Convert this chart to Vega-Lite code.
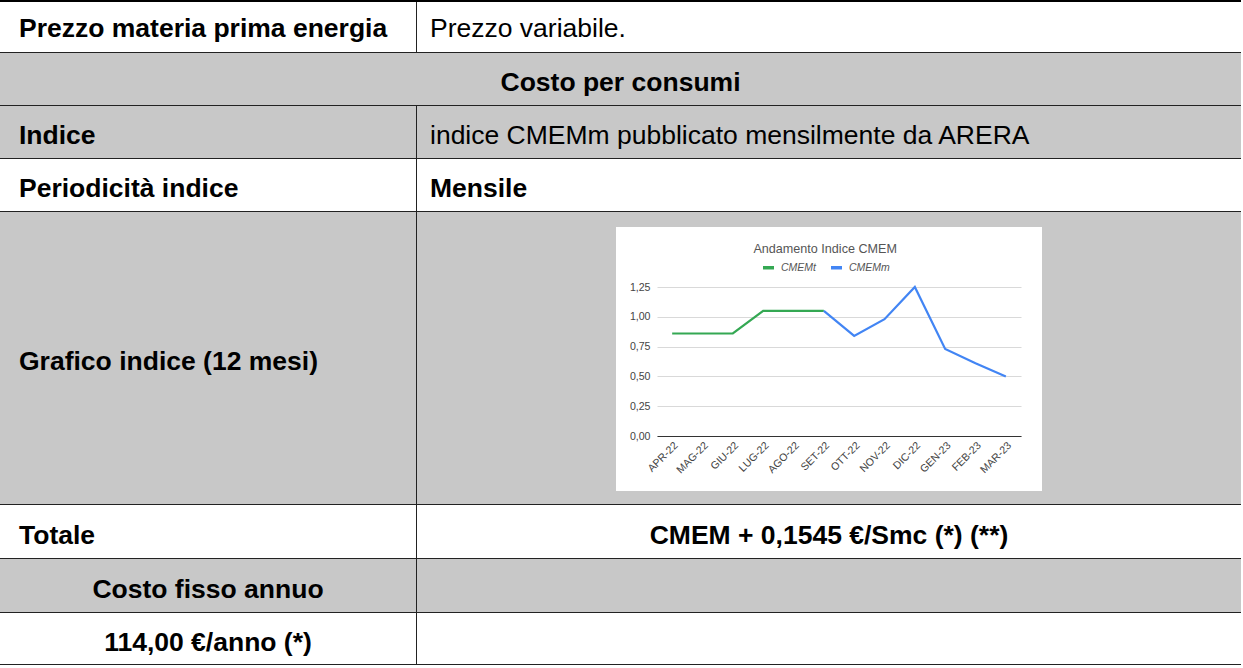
{
  "$schema": "https://vega.github.io/schema/vega-lite/v6.json",
  "padding": 0,
  "background": "#ffffff",
  "spacing": 0,
  "resolve": {"scale": {"color": "independent"}, "legend": {"color": "independent"}},
  "config": {
    "font": "Liberation Sans",
    "concat": {"spacing": 0},
    "view": {"stroke": null},
    "text": {"font": "Liberation Sans", "fontSize": 26.5, "color": "#000000", "dy": 4},
    "locale": {"number": {"decimal": ",", "thousands": ".", "grouping": [3], "currency": ["", " €"]}}
  },
  "vconcat": [
    {"width": 1241, "height": 2, "view": {"fill": "#000000"}, "data": {"values": []}, "mark": {"type": "text", "text": ""}},
    {"spacing": 0, "hconcat": [
      {"width": 416, "height": 50, "view": {"fill": "#ffffff"}, "data": {"values": [{"testo": "Prezzo materia prima energia"}]}, "mark": {"type": "text", "align": "left", "x": 19, "dy": 2, "fontWeight": "bold"}, "encoding": {"text": {"field": "testo"}}},
      {"width": 1, "height": 50, "view": {"fill": "#222222"}, "data": {"values": []}, "mark": {"type": "text", "text": ""}},
      {"width": 824, "height": 50, "view": {"fill": "#ffffff"}, "data": {"values": [{"testo": "Prezzo variabile."}]}, "mark": {"type": "text", "align": "left", "x": 13, "dy": 2}, "encoding": {"text": {"field": "testo"}}}
    ]},
    {"width": 1241, "height": 1, "view": {"fill": "#222222"}, "data": {"values": []}, "mark": {"type": "text", "text": ""}},
    {"width": 1241, "height": 52, "view": {"fill": "#c8c8c8"}, "data": {"values": [{"testo": "Costo per consumi"}]}, "mark": {"type": "text", "fontWeight": "bold"}, "encoding": {"text": {"field": "testo"}}},
    {"width": 1241, "height": 1, "view": {"fill": "#222222"}, "data": {"values": []}, "mark": {"type": "text", "text": ""}},
    {"spacing": 0, "hconcat": [
      {"width": 416, "height": 52, "view": {"fill": "#c8c8c8"}, "data": {"values": [{"testo": "Indice"}]}, "mark": {"type": "text", "align": "left", "x": 19, "fontWeight": "bold"}, "encoding": {"text": {"field": "testo"}}},
      {"width": 1, "height": 52, "view": {"fill": "#222222"}, "data": {"values": []}, "mark": {"type": "text", "text": ""}},
      {"width": 824, "height": 52, "view": {"fill": "#c8c8c8"}, "data": {"values": [{"testo": "indice CMEMm pubblicato mensilmente da ARERA"}]}, "mark": {"type": "text", "align": "left", "x": 13}, "encoding": {"text": {"field": "testo"}}}
    ]},
    {"width": 1241, "height": 1, "view": {"fill": "#222222"}, "data": {"values": []}, "mark": {"type": "text", "text": ""}},
    {"spacing": 0, "hconcat": [
      {"width": 416, "height": 52, "view": {"fill": "#ffffff"}, "data": {"values": [{"testo": "Periodicità indice"}]}, "mark": {"type": "text", "align": "left", "x": 19, "fontWeight": "bold"}, "encoding": {"text": {"field": "testo"}}},
      {"width": 1, "height": 52, "view": {"fill": "#222222"}, "data": {"values": []}, "mark": {"type": "text", "text": ""}},
      {"width": 824, "height": 52, "view": {"fill": "#ffffff"}, "data": {"values": [{"testo": "Mensile"}]}, "mark": {"type": "text", "align": "left", "x": 13, "fontWeight": "bold"}, "encoding": {"text": {"field": "testo"}}}
    ]},
    {"width": 1241, "height": 1, "view": {"fill": "#222222"}, "data": {"values": []}, "mark": {"type": "text", "text": ""}},
    {"spacing": 0, "resolve": {"scale": {"color": "independent"}, "legend": {"color": "independent"}}, "hconcat": [
      {"width": 416, "height": 292, "view": {"fill": "#c8c8c8"}, "data": {"values": [{"testo": "Grafico indice (12 mesi)"}]}, "mark": {"type": "text", "align": "left", "x": 19, "fontWeight": "bold"}, "encoding": {"text": {"field": "testo"}}},
      {"width": 1, "height": 292, "view": {"fill": "#222222"}, "data": {"values": []}, "mark": {"type": "text", "text": ""}},
      {"spacing": 0, "resolve": {"scale": {"color": "independent"}, "legend": {"color": "independent"}}, "vconcat": [
        {"width": 824, "height": 15, "view": {"fill": "#c8c8c8"}, "data": {"values": []}, "mark": {"type": "text", "text": ""}},
        {"spacing": 13, "resolve": {"scale": {"color": "independent"}, "legend": {"color": "independent"}}, "hconcat": [
          {"width": 199, "height": 264, "view": {"fill": "#c8c8c8"}, "data": {"values": []}, "mark": {"type": "text", "text": ""}},
          {"spacing": 0, "resolve": {"scale": {"color": "independent"}, "legend": {"color": "independent"}}, "vconcat": [
            {"width": 372, "height": 16, "data": {"values": []}, "mark": {"type": "text", "text": ""}},
            {
              "width": 364,
              "height": 149,
              "view": {"stroke": null},
              "title": {"text": "Andamento Indice CMEM", "frame": "bounds", "anchor": "middle", "fontSize": 12.6, "fontWeight": "normal", "color": "#555555", "offset": 4},
              "data": {"values": [
                {"serie": "CMEMt", "mese": "APR-22", "n": 1, "valore": 0.86},
                {"serie": "CMEMt", "mese": "MAG-22", "n": 2, "valore": 0.86},
                {"serie": "CMEMt", "mese": "GIU-22", "n": 3, "valore": 0.86},
                {"serie": "CMEMt", "mese": "LUG-22", "n": 4, "valore": 1.05},
                {"serie": "CMEMt", "mese": "AGO-22", "n": 5, "valore": 1.05},
                {"serie": "CMEMt", "mese": "SET-22", "n": 6, "valore": 1.05},
                {"serie": "CMEMm", "mese": "SET-22", "n": 6, "valore": 1.05},
                {"serie": "CMEMm", "mese": "OTT-22", "n": 7, "valore": 0.84},
                {"serie": "CMEMm", "mese": "NOV-22", "n": 8, "valore": 0.98},
                {"serie": "CMEMm", "mese": "DIC-22", "n": 9, "valore": 1.25},
                {"serie": "CMEMm", "mese": "GEN-23", "n": 10, "valore": 0.73},
                {"serie": "CMEMm", "mese": "FEB-23", "n": 11, "valore": 0.61},
                {"serie": "CMEMm", "mese": "MAR-23", "n": 12, "valore": 0.50}
              ]},
              "mark": {"type": "line", "strokeWidth": 2.2},
              "encoding": {
                "x": {"field": "mese", "type": "ordinal", "sort": ["APR-22", "MAG-22", "GIU-22", "LUG-22", "AGO-22", "SET-22", "OTT-22", "NOV-22", "DIC-22", "GEN-23", "FEB-23", "MAR-23"], "scale": {"type": "point", "padding": 0.5}, "axis": {"title": null, "labelAngle": -45, "ticks": false, "domainColor": "#333333", "labelColor": "#444444", "labelFontSize": 10.6, "labelPadding": 4, "grid": false}},
                "y": {"field": "valore", "type": "quantitative", "scale": {"domain": [0, 1.25]}, "axis": {"title": null, "values": [0, 0.25, 0.5, 0.75, 1, 1.25], "format": ".2f", "domain": false, "ticks": false, "gridColor": "#d9d9d9", "labelColor": "#444444", "labelFontSize": 10.6, "labelPadding": 7}},
                "color": {"field": "serie", "type": "nominal", "scale": {"domain": ["CMEMt", "CMEMm"], "range": ["#34a853", "#4285f4"]}, "legend": {"orient": "none", "legendX": 104, "legendY": -27, "direction": "horizontal", "title": null, "symbolType": "stroke", "symbolStrokeWidth": 3.5, "symbolSize": 120, "labelFontSize": 10.5, "labelFontStyle": "italic", "labelColor": "#555555", "columnPadding": 8, "labelOffset": 5}},
                "order": {"field": "n", "type": "quantitative"}
              }
            }
          ]},
          {"width": 199, "height": 264, "view": {"fill": "#c8c8c8"}, "data": {"values": []}, "mark": {"type": "text", "text": ""}}
        ]},
        {"width": 824, "height": 13, "view": {"fill": "#c8c8c8"}, "data": {"values": []}, "mark": {"type": "text", "text": ""}}
      ]}
    ]},
    {"width": 1241, "height": 1, "view": {"fill": "#222222"}, "data": {"values": []}, "mark": {"type": "text", "text": ""}},
    {"spacing": 0, "hconcat": [
      {"width": 416, "height": 53, "view": {"fill": "#ffffff"}, "data": {"values": [{"testo": "Totale"}]}, "mark": {"type": "text", "align": "left", "x": 19, "fontWeight": "bold"}, "encoding": {"text": {"field": "testo"}}},
      {"width": 1, "height": 53, "view": {"fill": "#222222"}, "data": {"values": []}, "mark": {"type": "text", "text": ""}},
      {"width": 824, "height": 53, "view": {"fill": "#ffffff"}, "data": {"values": [{"testo": "CMEM + 0,1545 €/Smc (*) (**)"}]}, "mark": {"type": "text", "fontWeight": "bold"}, "encoding": {"text": {"field": "testo"}}}
    ]},
    {"width": 1241, "height": 1, "view": {"fill": "#222222"}, "data": {"values": []}, "mark": {"type": "text", "text": ""}},
    {"spacing": 0, "hconcat": [
      {"width": 416, "height": 53, "view": {"fill": "#c8c8c8"}, "data": {"values": [{"testo": "Costo fisso annuo"}]}, "mark": {"type": "text", "fontWeight": "bold"}, "encoding": {"text": {"field": "testo"}}},
      {"width": 1, "height": 53, "view": {"fill": "#222222"}, "data": {"values": []}, "mark": {"type": "text", "text": ""}},
      {"width": 824, "height": 53, "view": {"fill": "#c8c8c8"}, "data": {"values": []}, "mark": {"type": "text", "text": ""}}
    ]},
    {"width": 1241, "height": 1, "view": {"fill": "#222222"}, "data": {"values": []}, "mark": {"type": "text", "text": ""}},
    {"spacing": 0, "hconcat": [
      {"width": 416, "height": 51, "view": {"fill": "#ffffff"}, "data": {"values": [{"testo": "114,00 €/anno (*)"}]}, "mark": {"type": "text", "fontWeight": "bold"}, "encoding": {"text": {"field": "testo"}}},
      {"width": 1, "height": 51, "view": {"fill": "#222222"}, "data": {"values": []}, "mark": {"type": "text", "text": ""}},
      {"width": 824, "height": 51, "view": {"fill": "#ffffff"}, "data": {"values": []}, "mark": {"type": "text", "text": ""}}
    ]},
    {"width": 1241, "height": 1, "view": {"fill": "#222222"}, "data": {"values": []}, "mark": {"type": "text", "text": ""}}
  ]
}
